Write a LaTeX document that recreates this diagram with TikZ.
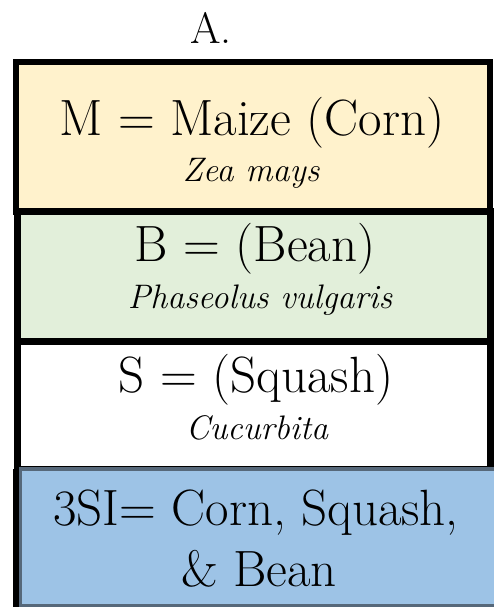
\documentclass[tikz,border=0pt]{standalone}
\usepackage{tikz}
\usetikzlibrary{positioning}
\definecolor{maize}{HTML}{FFF2CC}
\definecolor{bean}{HTML}{E2EFDA}
\definecolor{tsi}{HTML}{9DC3E6}
\definecolor{slate}{HTML}{56687A}
\newcommand{\cropfs}{\fontsize{51}{60}\selectfont}
\newcommand{\latinfs}{\fontsize{34}{40}\selectfont\itshape}
\tikzstyle{plant} = [rectangle, draw = black, line width = 6pt, inner sep = 0]
\tikzstyle{crop} = [draw = none, inner sep = 0, anchor = base, font = \cropfs]
\tikzstyle{latin} = [draw = none, inner sep = 0, anchor = base, font = \latinfs]

\begin{document}
\begin{tikzpicture}[x = 1pt, y = 1pt]
\useasboundingbox (0, 0) rectangle (493, 607);
% panel label
\node [draw = none, inner sep = 0, anchor = base west, font = \fontsize{44}{50}\selectfont] (A) at (190, 563) {A.};
% the four boxes
\node [plant, fill = maize, minimum width = 474, minimum height = 150] (M) at (253, 470) {};
\node [plant, fill = bean, line width = 7pt, minimum width = 472.5, minimum height = 131] (B) at (253.75, 329.5) {};
\node [plant, fill = white, line width = 7pt, minimum width = 472.5, minimum height = 128] (S) at (253.75, 201) {};
\draw [line width = 6pt] (16, 138) -- (16, 0);
\node [plant, fill = tsi, draw = slate, line width = 3.5pt, minimum width = 475.5, minimum height = 136.5] (SI) at (258.25, 69.75) {};
% texts
\node [crop] (Mname) at (252, 471) {M = Maize (Corn)};
\node [latin] (Mlat) at (251, 425) {Zea mays};
\node [crop] (Bname) at (255, 345) {B = (Bean)};
\node [latin] (Blat) at (260, 298) {Phaseolus vulgaris};
\node [crop] (Sname) at (256, 214) {S = (Squash)};
\node [latin] (Slat) at (257, 167) {Cucurbita};
\node [crop] (SIname) at (256, 81) {3SI= Corn, Squash,};
\node [crop] (SIname2) at (259, 20) {\& Bean};
\end{tikzpicture}
\end{document}
